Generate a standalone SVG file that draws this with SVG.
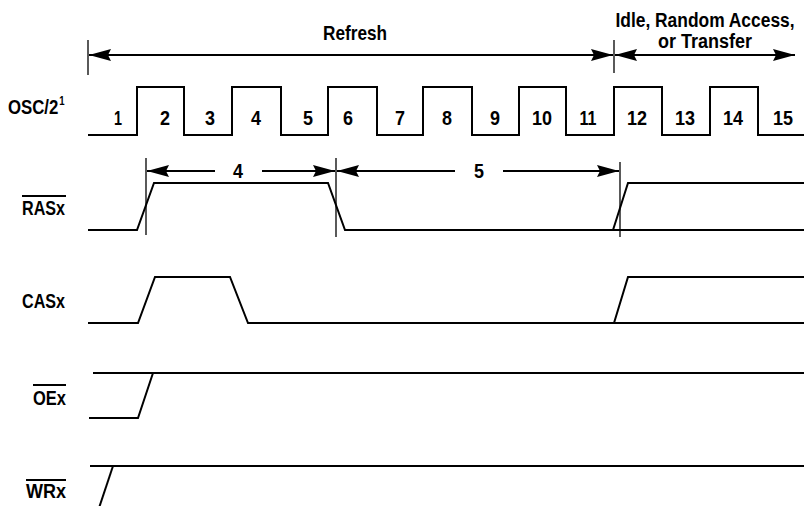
<svg xmlns="http://www.w3.org/2000/svg" width="804" height="506" viewBox="0 0 804 506">
<style>
  text { font-family: "Liberation Sans", Arial, sans-serif; font-weight: bold; font-size: 21px; fill: #000; }
  .n { text-anchor: middle; font-size: 21px; }
  .lbl { text-anchor: start; }
  .sig { fill: none; stroke: #000; stroke-width: 2; stroke-linejoin: miter; }
  .tick { stroke: #000; stroke-width: 1.3; fill: none; }
  .dim { stroke: #000; stroke-width: 2; fill: none; marker-end: url(#ah); }
  .ov { stroke: #000; stroke-width: 1.8; }
</style>
<defs>
  <marker id="ah" viewBox="0 0 22 12" refX="22" refY="6" markerWidth="22" markerHeight="12" markerUnits="userSpaceOnUse" orient="auto">
    <path d="M0,0 L22,6 L0,12 L3,6 z" fill="#000"/>
  </marker>
</defs>
<rect width="804" height="506" fill="#fff"/>

<g id="connectors">
  <line class="tick" x1="88" y1="40" x2="88" y2="75"/>
  <line class="tick" x1="614" y1="40" x2="614" y2="73"/>
  <line class="dim" x1="351" y1="55" x2="89" y2="55"/>
  <line class="dim" x1="351" y1="55" x2="613" y2="55"/>
  <line class="dim" x1="705" y1="55" x2="615" y2="55"/>
  <line class="dim" x1="705" y1="55" x2="795" y2="55"/>
  <line class="tick" x1="146" y1="158" x2="146" y2="235"/>
  <line class="tick" x1="336" y1="158" x2="336" y2="237"/>
  <line class="tick" x1="620" y1="162" x2="620" y2="237"/>
  <line class="dim" x1="215" y1="171" x2="147" y2="171"/>
  <line class="dim" x1="262" y1="171" x2="335" y2="171"/>
  <line class="dim" x1="455" y1="171" x2="337" y2="171"/>
  <line class="dim" x1="503" y1="171" x2="619" y2="171"/>
  <text class="n" x="238" y="178" textLength="10" lengthAdjust="spacingAndGlyphs">4</text>
  <text class="n" x="479" y="178" textLength="10" lengthAdjust="spacingAndGlyphs">5</text>
  <text x="323" y="40" textLength="64" lengthAdjust="spacingAndGlyphs">Refresh</text>
  <text transform="translate(705,27) scale(0.87,1)" x="0" y="0" text-anchor="middle" style="font-size:20px">Idle, Random Access,</text>
  <text x="658" y="48" style="font-size:20px" textLength="94" lengthAdjust="spacingAndGlyphs">or Transfer</text>
</g>

<g id="osc">
  <text class="lbl" transform="translate(8,114) scale(0.8,1)" x="0" y="0">OSC/2<tspan dx="1" dy="-9" style="font-size:12px">1</tspan></text>
  <path class="sig" d="M88,135 H137 V87 H184 V135 H232 V87 H281 V135 H328 V87 H377 V135 H423 V87 H472 V135 H519 V87 H566 V135 H614 V87 H662 V135 H710 V87 H758 V135 H804"/>
  <text class="n" x="118" y="125" textLength="8" lengthAdjust="spacingAndGlyphs">1</text>
  <text class="n" x="165" y="125" textLength="10" lengthAdjust="spacingAndGlyphs">2</text>
  <text class="n" x="210" y="125" textLength="10" lengthAdjust="spacingAndGlyphs">3</text>
  <text class="n" x="256" y="125" textLength="10" lengthAdjust="spacingAndGlyphs">4</text>
  <text class="n" x="308" y="125" textLength="10" lengthAdjust="spacingAndGlyphs">5</text>
  <text class="n" x="348" y="125" textLength="10" lengthAdjust="spacingAndGlyphs">6</text>
  <text class="n" x="400" y="125" textLength="10" lengthAdjust="spacingAndGlyphs">7</text>
  <text class="n" x="447" y="125" textLength="10" lengthAdjust="spacingAndGlyphs">8</text>
  <text class="n" x="495" y="125" textLength="10" lengthAdjust="spacingAndGlyphs">9</text>
  <text class="n" x="542" y="125" textLength="20" lengthAdjust="spacingAndGlyphs">10</text>
  <text class="n" x="588" y="125" textLength="17" lengthAdjust="spacingAndGlyphs">11</text>
  <text class="n" x="637" y="125" textLength="20" lengthAdjust="spacingAndGlyphs">12</text>
  <text class="n" x="685" y="125" textLength="20" lengthAdjust="spacingAndGlyphs">13</text>
  <text class="n" x="733" y="125" textLength="20" lengthAdjust="spacingAndGlyphs">14</text>
  <text class="n" x="783" y="125" textLength="20" lengthAdjust="spacingAndGlyphs">15</text>
</g>

<g id="ras">
  <text class="lbl" x="22" y="215" textLength="43" lengthAdjust="spacingAndGlyphs">RASx</text>
  <line class="ov" x1="22" y1="196" x2="66" y2="196"/>
  <path class="sig" d="M88,230 H137 L154,183 H328 L345,230 H613 L628,183 H804"/>
  <path class="sig" d="M613,230 H804"/>
</g>

<g id="cas">
  <text class="lbl" x="22" y="308" textLength="43" lengthAdjust="spacingAndGlyphs">CASx</text>
  <path class="sig" d="M88,323 H138 L155,277 H230 L248,323 H614 L628,277 H804"/>
  <path class="sig" d="M614,323 H804"/>
</g>

<g id="oe">
  <text class="lbl" x="33" y="405" textLength="33" lengthAdjust="spacingAndGlyphs">OEx</text>
  <line class="ov" x1="33" y1="385" x2="66" y2="385"/>
  <path class="sig" d="M89,418 H138 L153,373"/>
  <path class="sig" d="M93,373 H804"/>
</g>

<g id="wr">
  <text class="lbl" x="26" y="498" textLength="40" lengthAdjust="spacingAndGlyphs">WRx</text>
  <line class="ov" x1="26" y1="480" x2="66" y2="480"/>
  <path class="sig" d="M90,466 H804"/>
  <path class="sig" d="M113,466 L99,508"/>
</g>
</svg>
